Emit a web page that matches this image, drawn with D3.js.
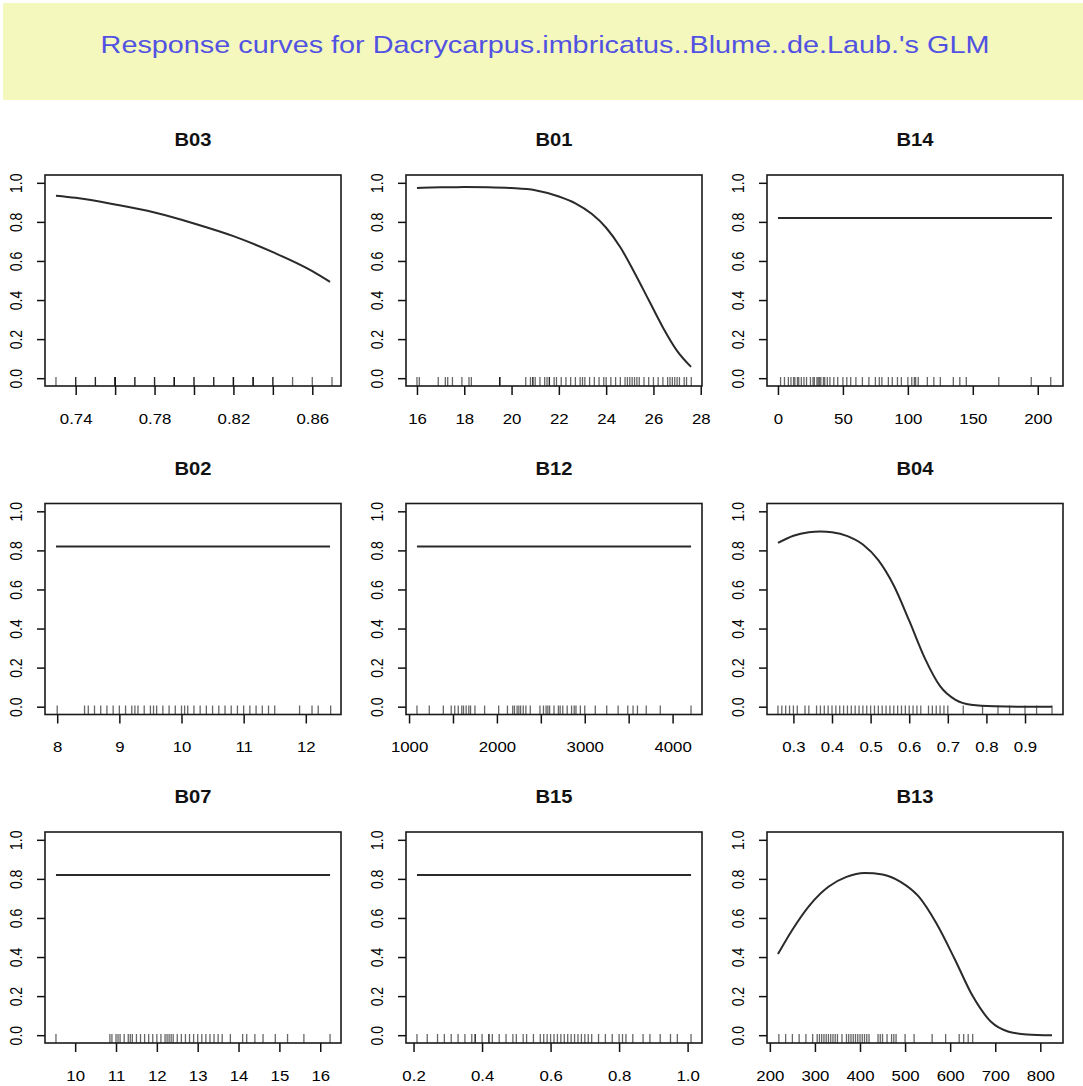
<!DOCTYPE html>
<html>
<head>
<meta charset="utf-8">
<script src="https://cdn.jsdelivr.net/npm/d3@7"></script>
<style>
  body { margin: 0; background: #fff; }
  svg { display: block; font-family: "Liberation Sans", Arial, sans-serif; }
</style>
</head>
<body>
<div id="chart"></div>
<script>
// title + panel order
var chartTitle = "Response curves for Dacrycarpus.imbricatus..Blume..de.Laub.'s GLM";
var panelNames = ["B03", "B01", "B14", "B02", "B12", "B04", "B07", "B15", "B13"];
var yTicks = [0, 0.2, 0.4, 0.6, 0.8, 1.0];

// B03
var b03X = [0.730, 0.740, 0.760, 0.780, 0.800, 0.820, 0.840, 0.860, 0.869];
var b03Y = [0.934, 0.923, 0.889, 0.848, 0.792, 0.727, 0.645, 0.548, 0.493];
var b03Rug = [0.73, 0.74, 0.74, 0.75, 0.75, 0.76, 0.76, 0.76, 0.76, 0.77, 0.77, 0.78, 0.78,
  0.79, 0.79, 0.79, 0.80, 0.80, 0.81, 0.81, 0.82, 0.82, 0.82, 0.83, 0.83, 0.83, 0.84, 0.84,
  0.85, 0.86, 0.87];
var b03Ticks = [0.74, 0.76, 0.78, 0.80, 0.82, 0.84, 0.86];
var b03Labels = ["0.74", "", "0.78", "", "0.82", "", "0.86"];

// B01
var b01X = [16.0, 17.0, 18.0, 19.0, 20.0, 21.0, 22.0, 22.7, 23.4, 24.0, 24.6, 25.2, 25.8, 26.4, 27.0, 27.59];
var b01Y = [0.974, 0.977, 0.978, 0.977, 0.973, 0.962, 0.930, 0.895, 0.840, 0.770, 0.670, 0.540, 0.400, 0.260, 0.140, 0.058];
var b01Rug = [16.0, 16.1, 16.9, 17.2, 17.3, 17.5, 17.9, 18.2, 18.3, 19.5, 19.5, 19.5, 20.6, 20.8,
  20.9, 20.9, 21.0, 21.2, 21.4, 21.5, 21.6, 21.6, 21.8, 21.9, 22.1, 22.3, 22.5, 22.7, 22.9, 23.0,
  23.1, 23.3, 23.5, 23.7, 23.9, 24.0, 24.2, 24.4, 24.6, 24.8, 24.9, 25.0, 25.1, 25.2, 25.3, 25.4,
  25.6, 25.8, 26.0, 26.2, 26.4, 26.6, 26.7, 26.8, 26.9, 27.0, 27.1, 27.3, 27.4, 27.6];
var b01Ticks = [16, 18, 20, 22, 24, 26, 28];
var b01Labels = ["16", "18", "20", "22", "24", "26", "28"];

// B14
var b14X = [0, 211];
var b14Y = [0.82, 0.82];
var b14Rug = [2, 5, 8, 10, 12, 13, 15, 16, 18, 20, 22, 25, 27, 28, 30, 31, 32, 33, 35, 36, 38, 40,
  43, 46, 50, 53, 56, 60, 65, 70, 75, 78, 80, 85, 88, 92, 95, 100, 103, 105, 106, 108, 115, 120,
  125, 135, 140, 145, 170, 195, 210];
var b14Ticks = [0, 50, 100, 150, 200];
var b14Labels = ["0", "50", "100", "150", "200"];

// B02
var b02X = [7.98, 12.39];
var b02Y = [0.82, 0.82];
var b02Rug = [8.0, 8.44, 8.5, 8.6, 8.7, 8.8, 8.9, 9.0, 9.1, 9.2, 9.25, 9.3, 9.4, 9.5, 9.55, 9.6,
  9.7, 9.8, 9.9, 10.0, 10.05, 10.1, 10.2, 10.3, 10.4, 10.5, 10.6, 10.7, 10.8, 10.9, 11.0, 11.1,
  11.2, 11.3, 11.4, 11.5, 11.9, 12.1, 12.2, 12.4];
var b02Ticks = [8, 9, 10, 11, 12];
var b02Labels = ["8", "9", "10", "11", "12"];

// B12
var b12X = [1090, 4210];
var b12Y = [0.82, 0.82];
var b12Rug = [1090, 1230, 1390, 1480, 1520, 1560, 1600, 1620, 1650, 1680, 1700, 1750, 1860, 2020,
  2120, 2180, 2200, 2230, 2250, 2270, 2300, 2330, 2380, 2490, 2530, 2560, 2580, 2600, 2650, 2700,
  2720, 2750, 2800, 2850, 2880, 2900, 2950, 3000, 3120, 3250, 3380, 3490, 3550, 3600, 3700, 3860,
  4210];
var b12Ticks = [1000, 1500, 2000, 2500, 3000, 3500, 4000];
var b12Labels = ["1000", "", "2000", "", "3000", "", "4000"];

// B04
var b04X = [0.260, 0.300, 0.340, 0.370, 0.400, 0.440, 0.480, 0.520, 0.560, 0.600, 0.640, 0.680,
  0.720, 0.760, 0.820, 0.900, 0.970];
var b04Y = [0.838, 0.875, 0.893, 0.897, 0.893, 0.873, 0.830, 0.750, 0.620, 0.440, 0.250, 0.105,
  0.035, 0.010, 0.002, 0.0, 0.0];
var b04Rug = [0.26, 0.27, 0.28, 0.29, 0.30, 0.31, 0.33, 0.34, 0.36, 0.37, 0.38, 0.39, 0.40, 0.41,
  0.42, 0.43, 0.44, 0.45, 0.46, 0.47, 0.48, 0.49, 0.50, 0.51, 0.52, 0.53, 0.54, 0.55, 0.56, 0.57,
  0.58, 0.59, 0.60, 0.61, 0.62, 0.63, 0.65, 0.66, 0.67, 0.68, 0.69, 0.70, 0.74, 0.79, 0.83, 0.86,
  0.90, 0.93, 0.97];
var b04Ticks = [0.3, 0.4, 0.5, 0.6, 0.7, 0.8, 0.9];
var b04Labels = ["0.3", "0.4", "0.5", "0.6", "0.7", "0.8", "0.9"];

// B07
var b07X = [9.53, 16.24];
var b07Y = [0.82, 0.82];
var b07Rug = [9.53, 10.85, 10.9, 11.0, 11.05, 11.1, 11.2, 11.3, 11.35, 11.4, 11.5, 11.6, 11.7,
  11.8, 11.9, 12.0, 12.1, 12.2, 12.25, 12.3, 12.35, 12.4, 12.5, 12.6, 12.7, 12.8, 12.9, 13.0, 13.1,
  13.2, 13.3, 13.4, 13.5, 13.6, 13.8, 14.1, 14.2, 14.4, 14.6, 14.9, 15.2, 15.6, 16.24];
var b07Ticks = [10, 11, 12, 13, 14, 15, 16];
var b07Labels = ["10", "11", "12", "13", "14", "15", "16"];

// B15
var b15X = [0.21, 1.01];
var b15Y = [0.82, 0.82];
var b15Rug = [0.21, 0.24, 0.27, 0.29, 0.31, 0.33, 0.35, 0.37, 0.38, 0.38, 0.40, 0.42, 0.42, 0.43,
  0.45, 0.47, 0.49, 0.50, 0.52, 0.53, 0.55, 0.57, 0.58, 0.59, 0.60, 0.61, 0.62, 0.63, 0.64, 0.65,
  0.66, 0.67, 0.68, 0.69, 0.70, 0.71, 0.72, 0.74, 0.76, 0.78, 0.80, 0.81, 0.82, 0.84, 0.87, 0.89,
  0.92, 0.95, 0.97, 1.01];
var b15Ticks = [0.2, 0.4, 0.6, 0.8, 1.0];
var b15Labels = ["0.2", "0.4", "0.6", "0.8", "1.0"];

// B13
var b13X = [218, 250, 290, 330, 370, 410, 450, 490, 530, 570, 610, 650, 690, 730, 770, 826];
var b13Y = [0.415, 0.540, 0.670, 0.760, 0.810, 0.830, 0.823, 0.785, 0.710, 0.570, 0.390, 0.200,
  0.070, 0.018, 0.004, 0.0];
var b13Rug = [220, 235, 250, 265, 280, 295, 305, 310, 315, 320, 325, 330, 335, 340, 345, 350, 360,
  370, 375, 380, 385, 390, 395, 400, 405, 410, 415, 420, 440, 445, 450, 460, 470, 475, 480, 500,
  520, 560, 590, 620, 630, 640, 650];
var b13Ticks = [200, 300, 400, 500, 600, 700, 800];
var b13Labels = ["200", "300", "400", "500", "600", "700", "800"];

var panels = [
  [b03X, b03Y, b03Rug, b03Ticks, b03Labels],
  [b01X, b01Y, b01Rug, b01Ticks, b01Labels],
  [b14X, b14Y, b14Rug, b14Ticks, b14Labels],
  [b02X, b02Y, b02Rug, b02Ticks, b02Labels],
  [b12X, b12Y, b12Rug, b12Ticks, b12Labels],
  [b04X, b04Y, b04Rug, b04Ticks, b04Labels],
  [b07X, b07Y, b07Rug, b07Ticks, b07Labels],
  [b15X, b15Y, b15Rug, b15Ticks, b15Labels],
  [b13X, b13Y, b13Rug, b13Ticks, b13Labels]
].map(function(p, i) {
  return {name: panelNames[i], x: p[0], y: p[1], rug: p[2], ticks: p[3], labels: p[4]};
});

var width = 1083, height = 1086,
    colW = 361, rowH = 328.5,
    gridTop = 105,
    boxLeft = 45, boxTop = 70, boxW = 296, boxH = 211,
    stretch = 1.2;

var svg = d3.select("#chart").append("svg")
  .attr("width", width)
  .attr("height", height);

// title band
svg.append("rect")
  .attr("x", 3).attr("y", 3)
  .attr("width", width - 3).attr("height", 97)
  .attr("fill", "#f4f8bc");

svg.append("g")
  .attr("transform", "translate(545,53) scale(1.2,1)")
  .append("text")
  .attr("text-anchor", "middle")
  .attr("font-size", 24)
  .attr("fill", "#5252e2")
  .text(chartTitle);

var y = d3.scaleLinear().domain([-0.04, 1.04]).range([boxH, 0]);

var line = d3.line().curve(d3.curveMonotoneX);

panels.forEach(function(p, i) {
  var col = i % 3, row = Math.floor(i / 3);
  var g = svg.append("g")
    .attr("transform", "translate(" + (col * colW + boxLeft) + "," + (gridTop + row * rowH + boxTop) + ")");

  var lo = d3.min(p.x), hi = d3.max(p.x), pad = (hi - lo) * 0.04;
  var x = d3.scaleLinear().domain([lo - pad, hi + pad]).range([0, boxW]);

  // panel title
  g.append("g")
    .attr("transform", "translate(" + (boxW / 2) + ",-29) scale(1.12,1)")
    .append("text")
    .attr("text-anchor", "middle")
    .attr("font-size", 18)
    .attr("font-weight", "bold")
    .attr("fill", "#111")
    .text(p.name);

  // x axis
  var xa = g.append("g")
    .attr("transform", "translate(0," + boxH + ")")
    .call(d3.axisBottom(x)
      .tickValues(p.ticks)
      .tickFormat(function(d, k) { return p.labels[k]; })
      .tickSizeOuter(0).tickSizeInner(9).tickPadding(19));
  xa.select(".domain").remove();
  xa.selectAll("line").attr("stroke", "#111").attr("stroke-width", 1.5);
  xa.selectAll("text")
    .attr("font-size", 14)
    .attr("font-family", "Liberation Sans, Arial, sans-serif")
    .attr("fill", "#000")
    .attr("transform", "scale(" + stretch + ",1)");

  // y axis
  var ya = g.append("g")
    .call(d3.axisLeft(y)
      .tickValues(yTicks)
      .tickFormat(d3.format(".1f"))
      .tickSizeOuter(0).tickSizeInner(8));
  ya.select(".domain").remove();
  ya.selectAll("line").attr("stroke", "#111").attr("stroke-width", 1.5);
  ya.selectAll("text")
    .attr("x", 0).attr("y", 0).attr("dy", "0.35em")
    .attr("text-anchor", "middle")
    .attr("font-size", 14)
    .attr("font-family", "Liberation Sans, Arial, sans-serif")
    .attr("fill", "#000")
    .attr("transform", "translate(-29,0) scale(" + stretch + ",1) rotate(-90)");

  // rug
  g.append("g").selectAll("line")
    .data(p.rug)
    .enter().append("line")
    .attr("x1", function(d) { return x(d); })
    .attr("x2", function(d) { return x(d); })
    .attr("y1", boxH)
    .attr("y2", boxH - 9)
    .attr("stroke", "#000")
    .attr("stroke-opacity", 0.6)
    .attr("stroke-width", 1.3);

  // response curve
  g.append("path")
    .datum(d3.zip(p.x, p.y))
    .attr("d", line.x(function(d) { return x(d[0]); }).y(function(d) { return y(d[1]); }))
    .attr("fill", "none")
    .attr("stroke", "#2a2a2a")
    .attr("stroke-width", 2);

  // box
  g.append("rect")
    .attr("width", boxW).attr("height", boxH)
    .attr("fill", "none")
    .attr("stroke", "#1a1a1a")
    .attr("stroke-width", 1.6);
});
</script>
</body>
</html>
